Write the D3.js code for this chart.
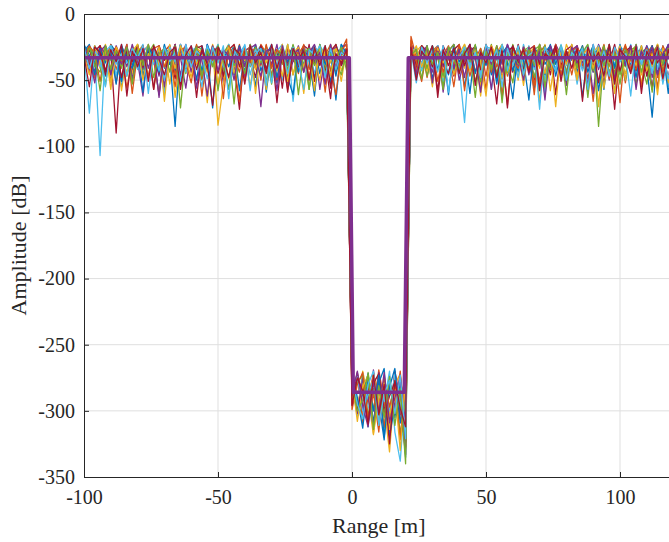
<!DOCTYPE html>
<html><head><meta charset="utf-8">
<script src="https://cdn.jsdelivr.net/npm/d3@7"></script>
<style>
body{margin:0;background:#fff;overflow:hidden}
svg{display:block}
svg text{font-family:"Liberation Serif","DejaVu Serif","Noto Serif",serif !important;fill:#262626}
</style>
</head><body>
<svg id="chart" width="669" height="542"></svg>
<script>
// ---- data ----
const xTicks = [-100, -50, 0, 50, 100];
const yTicks = [0, -50, -100, -150, -200, -250, -300, -350];
const xLabel = "Range [m]";
const yLabel = "Amplitude [dB]";
const rangeSamples = d3.range(-100, 121, 2); // 111 range bins, -100 … 120 m
const seriesColors = ["#0072BD","#D95319","#EDB120","#7E2F8E","#77AC30","#4DBEEE","#A2142F"];

const trace01 = [
-25,-38,-24,-31,-47,-23,-29,-55,-26,-36,
-24,-42,-28,-33,-61,-25,-30,-44,-23,-35,
-27,-50,-24,-39,-29,-26,-46,-31,-24,-58,
-28,-37,-23,-43,-30,-25,-52,-27,-34,-24,
-40,-26,-31,-48,-23,-36,-29,-65,-25,-33,
-270,-298,-276,-312,-271,-294,-322,-274,-305,-279,-291,
-24,-39,-27,-30,-53,-25,-34,-46,-23,-37,
-29,-60,-24,-41,-28,-33,-49,-26,-31,-24,
-44,-27,-35,-57,-23,-38,-30,-25,-47,-28,
-34,-24,-63,-29,-36,-26,-42,-23,-51,-31,
-25,-39,-28,-45,-24,-33,-56,-27,-30,-37];
const trace02 = [
-30,-24,-45,-27,-36,-23,-52,-29,-33,-25,
-41,-28,-24,-57,-31,-26,-38,-23,-48,-30,
-35,-25,-62,-28,-32,-24,-43,-27,-37,-23,
-50,-29,-26,-39,-24,-46,-31,-28,-54,-25,
-34,-23,-42,-30,-27,-59,-24,-36,-28,-19,
-286,-272,-309,-279,-300,-269,-293,-316,-275,-303,-281,
-17,-33,-25,-48,-28,-24,-40,-31,-55,-26,
-36,-23,-44,-29,-57,-25,-32,-27,-47,-24,
-38,-30,-26,-61,-23,-35,-28,-43,-25,-50,
-29,-24,-39,-31,-66,-26,-34,-23,-45,-28,
-52,-25,-37,-27,-30,-24,-48,-33,-26,-41];
const trace03 = [
-27,-33,-49,-24,-30,-41,-25,-58,-28,-35,
-23,-46,-31,-26,-39,-24,-53,-29,-34,-25,
-44,-27,-31,-67,-24,-36,-28,-49,-23,-38,
-26,-55,-30,-24,-42,-29,-35,-23,-47,-27,
-32,-60,-25,-37,-28,-44,-24,-31,-51,-26,
-278,-301,-270,-290,-318,-275,-296,-331,-280,-272,-307,
-26,-42,-24,-31,-37,-28,-54,-25,-33,-46,
-23,-39,-29,-62,-26,-35,-24,-44,-30,-27,
-50,-24,-36,-28,-41,-23,-58,-31,-26,-38,
-25,-47,-29,-33,-24,-70,-27,-40,-25,-32,
-45,-28,-24,-53,-30,-36,-23,-43,-29,-34];
const trace04 = [
-29,-44,-26,-35,-24,-51,-30,-27,-40,-23,
-36,-62,-25,-31,-47,-28,-24,-39,-33,-56,
-26,-30,-43,-23,-37,-28,-52,-25,-34,-29,
-45,-24,-32,-70,-27,-38,-23,-49,-30,-26,
-41,-28,-35,-24,-57,-31,-27,-43,-25,-23,
-295,-273,-288,-310,-269,-302,-281,-315,-271,-297,-333,
-23,-29,-41,-26,-35,-24,-59,-30,-27,-44,
-25,-38,-31,-48,-23,-33,-28,-64,-26,-37,
-24,-45,-29,-32,-54,-27,-39,-23,-47,-30,
-35,-25,-42,-28,-60,-24,-31,-50,-26,-36,
-29,-44,-23,-38,-27,-56,-31,-25,-40,-33];
const trace05 = [
-33,-26,-40,-29,-54,-24,-36,-27,-47,-31,
-23,-42,-28,-35,-25,-60,-30,-37,-24,-45,
-27,-33,-50,-26,-39,-23,-44,-29,-68,-25,
-36,-28,-41,-24,-31,-53,-27,-38,-23,-46,
-30,-25,-57,-28,-34,-24,-43,-32,-26,-39,
-274,-292,-306,-271,-299,-280,-313,-276,-301,-285,-320,
-28,-36,-24,-47,-31,-25,-55,-27,-34,-42,
-24,-30,-63,-26,-38,-23,-45,-29,-36,-52,
-25,-33,-41,-27,-24,-58,-30,-37,-26,-44,
-23,-49,-28,-35,-25,-85,-31,-39,-27,-46,
-24,-34,-53,-29,-26,-40,-23,-48,-32,-28];
const trace06 = [
-26,-35,-31,-107,-24,-43,-28,-52,-25,-37,
-30,-23,-48,-27,-34,-61,-25,-39,-29,-44,
-24,-36,-55,-26,-31,-23,-47,-28,-40,-33,
-25,-58,-29,-24,-42,-27,-35,-50,-23,-66,
-28,-38,-25,-45,-30,-24,-53,-26,-34,-29,
-281,-304,-272,-296,-311,-277,-293,-270,-316,-338,-283,
-31,-25,-43,-28,-36,-24,-51,-27,-33,-40,
-82,-26,-30,-45,-24,-57,-29,-37,-25,-34,
-48,-23,-39,-28,-31,-62,-26,-42,-24,-35,
-27,-53,-30,-24,-44,-28,-38,-25,-59,-29,
-36,-23,-47,-27,-33,-26,-41,-24,-55,-30];
const trace07 = [
-34,-27,-39,-24,-46,-29,-90,-26,-32,-43,
-25,-37,-28,-57,-24,-35,-30,-49,-23,-41,
-27,-63,-29,-34,-25,-45,-31,-24,-38,-72,
-26,-33,-48,-24,-30,-40,-27,-56,-25,-36,
-29,-44,-23,-51,-28,-34,-64,-25,-31,-27,
-290,-271,-300,-280,-314,-274,-297,-308,-270,-292,-324,
-29,-41,-25,-36,-28,-58,-24,-33,-47,-26,
-39,-30,-24,-54,-27,-35,-68,-25,-31,-44,
-23,-38,-29,-50,-26,-33,-24,-61,-28,-37,
-25,-46,-30,-27,-40,-24,-53,-29,-72,-26,
-34,-24,-43,-28,-36,-57,-25,-31,-48,-27];
const trace08 = [
-28,-23,-37,-30,-44,-25,-33,-51,-27,-39,
-24,-47,-29,-35,-26,-41,-31,-85,-24,-38,
-30,-26,-46,-23,-34,-55,-28,-40,-25,-32,
-43,-27,-36,-24,-59,-29,-33,-25,-48,-61,
-26,-39,-30,-24,-45,-28,-52,-23,-35,-31,
-277,-301,-286,-272,-309,-279,-268,-319,-296,-275,-335,
-30,-26,-38,-24,-49,-29,-35,-27,-43,-25,
-55,-31,-24,-40,-28,-46,-33,-23,-37,-64,
-27,-42,-25,-34,-51,-29,-24,-47,-30,-36,
-26,-44,-28,-33,-24,-58,-31,-25,-41,-29,
-50,-27,-35,-24,-39,-78,-28,-32,-23,-45];
const trace09 = [
-24,-36,-48,-27,-31,-25,-42,-29,-56,-33,
-26,-40,-23,-35,-61,-28,-24,-46,-30,-37,
-52,-26,-33,-43,-25,-29,-48,-24,-38,-66,
-27,-34,-41,-23,-30,-25,-50,-28,-39,-32,
-45,-24,-36,-58,-27,-31,-23,-44,-29,-26,
-282,-274,-305,-291,-272,-287,-312,-278,-302,-270,-327,
-20,-43,-28,-33,-25,-51,-31,-24,-40,-29,
-27,-47,-30,-37,-23,-44,-26,-62,-28,-35,
-41,-25,-32,-54,-29,-24,-38,-27,-46,-31,
-26,-39,-24,-49,-30,-36,-23,-45,-28,-67,
-25,-35,-42,-27,-38,-29,-56,-24,-33,-30];
const trace10 = [
-37,-25,-29,-41,-23,-52,-30,-39,-26,-45,
-28,-24,-49,-33,-27,-40,-23,-63,-30,-36,
-26,-38,-31,-44,-24,-84,-53,-27,-40,-29,
-35,-25,-42,-28,-57,-24,-32,-47,-23,-46,
-29,-40,-26,-34,-50,-25,-37,-23,-43,-31,
-273,-296,-279,-307,-271,-299,-284,-314,-276,-293,-329,
-35,-28,-24,-43,-30,-26,-48,-25,-37,-31,
-41,-24,-33,-55,-27,-38,-29,-23,-45,-34,
-26,-39,-30,-25,-67,-28,-36,-24,-42,-23,
-32,-50,-26,-38,-29,-24,-41,-33,-60,-27,
-37,-25,-30,-46,-28,-40,-23,-35,-52,-26];
const trace11 = [
-27,-38,-43,-25,-30,-46,-24,-35,-23,-50,
-29,-41,-26,-36,-24,-55,-28,-39,-33,-23,
-44,-27,-34,-62,-25,-31,-40,-28,-37,-24,
-47,-26,-23,-38,-30,-25,-43,-27,-53,-35,
-24,-40,-29,-23,-36,-45,-28,-25,-39,-31,
-279,-302,-275,-290,-312,-271,-304,-280,-297,-273,-310,
-29,-37,-24,-31,-44,-26,-40,-28,-23,-50,
-35,-27,-25,-42,-30,-57,-24,-38,-23,-33,
-39,-25,-46,-28,-36,-26,-41,-23,-31,-54,
-27,-24,-37,-29,-44,-23,-35,-26,-51,-30,
-34,-40,-25,-33,-24,-48,-28,-39,-23,-36];
const trace12 = [
-29,-25,-39,-44,-24,-35,-27,-41,-26,-52,
-24,-37,-30,-23,-43,-28,-38,-25,-50,-33,
-36,-24,-27,-42,-26,-58,-30,-23,-39,-34,
-28,-40,-25,-37,-24,-48,-29,-27,-44,-23,
-38,-28,-57,-26,-31,-41,-24,-36,-46,-27,
-293,-278,-273,-304,-283,-309,-275,-298,-279,-317,-291,
-27,-37,-25,-41,-24,-34,-47,-28,-23,-39,
-29,-26,-51,-36,-24,-40,-27,-33,-44,-23,
-38,-28,-25,-48,-30,-24,-42,-36,-27,-61,
-26,-38,-29,-23,-43,-28,-39,-24,-46,-32,
-40,-27,-25,-37,-53,-29,-24,-43,-26,-38];
const trace13 = [
-30,-75,-25,-40,-28,-24,-47,-23,-37,-27,
-42,-29,-24,-38,-26,-50,-25,-36,-23,-41,
-28,-25,-44,-24,-37,-27,-40,-23,-46,-29,
-24,-39,-27,-35,-25,-52,-28,-23,-38,-26,
-41,-24,-36,-25,-29,-46,-27,-40,-23,-35,
-281,-274,-300,-288,-276,-310,-283,-301,-272,-295,-318,
-29,-25,-38,-27,-41,-24,-35,-44,-26,-37,
-24,-39,-28,-47,-25,-26,-40,-23,-43,-29,
-27,-37,-24,-42,-28,-50,-25,-36,-23,-39,
-30,-26,-43,-25,-34,-24,-46,-27,-38,-25,
-28,-41,-24,-37,-26,-44,-25,-29,-49,-24];
const trace14 = [
-27,-39,-28,-24,-43,-30,-25,-48,-27,-36,
-24,-40,-29,-26,-45,-27,-37,-23,-53,-28,
-38,-26,-24,-41,-29,-25,-47,-27,-23,-40,
-28,-25,-38,-24,-42,-27,-67,-28,-37,-25,
-40,-24,-27,-38,-25,-44,-28,-23,-39,-26,
-276,-299,-282,-308,-279,-272,-303,-289,-278,-306,-323,
-27,-38,-24,-28,-40,-25,-37,-45,-27,-23,
-39,-28,-25,-42,-24,-37,-27,-49,-28,-25,
-36,-41,-27,-24,-38,-28,-46,-25,-39,-27,
-24,-37,-28,-40,-25,-52,-27,-36,-23,-43,
-28,-25,-39,-27,-47,-24,-37,-28,-41,-25];
const trace15 = [
-23,-31,-46,-26,-37,-28,-53,-24,-34,-41,
-27,-59,-25,-32,-44,-23,-38,-29,-49,-26,
-35,-24,-43,-30,-71,-25,-33,-27,-46,-24,
-39,-28,-55,-26,-31,-23,-48,-29,-36,-25,
-44,-27,-33,-62,-24,-38,-28,-47,-23,-30,
-270,-290,-313,-277,-300,-273,-320,-282,-268,-309,-289,
-25,-48,-29,-34,-24,-42,-27,-61,-26,-36,
-31,-23,-45,-28,-39,-25,-53,-30,-24,-43,
-27,-35,-65,-25,-32,-46,-23,-38,-28,-50,
-26,-33,-24,-44,-30,-27,-57,-25,-40,-23,
-37,-29,-48,-26,-34,-24,-45,-28,-60,-31];
const trace16 = [
-35,-24,-30,-51,-27,-42,-25,-36,-23,-60,
-29,-33,-47,-26,-24,-40,-31,-55,-27,-25,
-39,-23,-49,-28,-35,-26,-64,-24,-32,-44,
-25,-37,-29,-50,-23,-41,-27,-33,-57,-26,
-30,-24,-48,-28,-36,-25,-42,-61,-27,-23,
-299,-280,-271,-306,-287,-316,-274,-297,-281,-322,-277,
-24,-36,-51,-27,-31,-25,-44,-29,-38,-23,
-58,-28,-34,-26,-47,-24,-40,-30,-69,-25,
-33,-27,-43,-24,-52,-29,-36,-23,-41,-28,
-46,-26,-30,-60,-25,-38,-24,-49,-27,-35,
-23,-42,-29,-55,-26,-32,-24,-44,-30,-39];
const trace17 = [
-31,-46,-24,-38,-27,-57,-25,-33,-44,-28,
-23,-50,-30,-36,-25,-66,-27,-41,-24,-34,
-48,-26,-29,-39,-23,-53,-31,-25,-45,-28,
-35,-24,-60,-27,-37,-26,-43,-23,-51,-30,
-25,-40,-28,-58,-24,-33,-47,-26,-36,-29,
-276,-308,-282,-273,-317,-291,-279,-304,-284,-330,-275,
-33,-24,-40,-28,-55,-26,-37,-25,-46,-30,
-23,-43,-27,-36,-62,-24,-32,-49,-26,-39,
-28,-54,-25,-34,-24,-45,-29,-70,-27,-38,
-23,-47,-31,-26,-41,-25,-56,-28,-35,-24,
-50,-27,-39,-24,-43,-30,-61,-26,-33,-28];
const trace18 = [
-26,-33,-52,-28,-24,-45,-30,-38,-25,-49,
-31,-24,-41,-27,-63,-26,-35,-23,-46,-29,
-25,-56,-28,-37,-24,-43,-27,-32,-50,-25,
-40,-23,-34,-47,-28,-26,-58,-24,-39,-30,
-27,-44,-25,-36,-29,-53,-23,-41,-28,-34,
-288,-270,-296,-312,-278,-301,-271,-309,-290,-276,-328,
-26,-45,-30,-24,-52,-28,-35,-25,-41,-27,
-48,-24,-33,-59,-26,-38,-29,-44,-23,-36,
-31,-50,-25,-40,-28,-65,-24,-34,-27,-47,
-25,-37,-29,-54,-23,-42,-27,-31,-49,-26,
-39,-24,-57,-28,-35,-25,-46,-30,-24,-41];
const trace19 = [
-38,-26,-31,-58,-24,-42,-28,-35,-25,-53,
-27,-39,-23,-48,-30,-26,-44,-24,-71,-29,
-33,-25,-47,-27,-40,-24,-36,-57,-26,-31,
-45,-23,-38,-28,-52,-25,-34,-27,-42,-24,
-61,-29,-26,-39,-23,-46,-30,-35,-25,-43,
-278,-300,-292,-272,-314,-281,-305,-274,-311,-283,-340,
-31,-27,-49,-24,-38,-29,-57,-25,-34,-44,
-26,-36,-23,-51,-28,-42,-24,-67,-30,-35,
-25,-46,-27,-39,-23,-55,-29,-33,-24,-48,
-28,-41,-25,-63,-26,-37,-24,-45,-30,-53,
-27,-34,-23,-44,-28,-59,-25,-38,-26,-47];
const trace20 = [
-25,-41,-28,-34,-55,-24,-38,-30,-47,-26,
-33,-24,-60,-27,-43,-25,-36,-29,-51,-23,
-40,-28,-32,-49,-25,-37,-24,-64,-27,-35,
-23,-46,-30,-26,-54,-24,-39,-28,-45,-25,
-35,-57,-27,-31,-24,-48,-26,-42,-29,-33,
-275,-295,-306,-280,-270,-311,-287,-277,-302,-273,-321,
-28,-52,-25,-37,-27,-44,-24,-59,-30,-33,
-25,-41,-29,-48,-23,-36,-27,-55,-26,-39,
-24,-46,-31,-28,-72,-25,-35,-43,-24,-50,
-29,-34,-26,-57,-23,-40,-28,-47,-25,-36,
-30,-62,-24,-38,-27,-45,-25,-53,-29,-31];
const trace21 = [
-32,-55,-25,-29,-44,-27,-36,-23,-62,-28,
-40,-26,-51,-24,-34,-46,-29,-25,-57,-31,
-24,-42,-27,-38,-69,-25,-33,-48,-26,-30,
-53,-24,-37,-29,-45,-23,-41,-27,-59,-26,
-34,-28,-50,-25,-39,-24,-56,-30,-37,-27,
-296,-275,-285,-310,-273,-303,-280,-325,-277,-298,-312,
-25,-50,-28,-34,-24,-63,-27,-39,-26,-45,
-30,-23,-54,-29,-37,-25,-48,-28,-71,-24,
-35,-27,-44,-25,-58,-30,-33,-24,-51,-28,
-41,-26,-66,-25,-36,-29,-47,-23,-53,-27,
-32,-45,-24,-60,-28,-38,-25,-49,-27,-42];

const traces = [trace01,trace02,trace03,trace04,trace05,trace06,trace07,
                trace08,trace09,trace10,trace11,trace12,trace13,trace14,
                trace15,trace16,trace17,trace18,trace19,trace20,trace21];

// average level (thick line)
const meanRange = [-100, -1, 0.5, 19.5, 21, 120];
const meanLevel = [-33, -33, -286, -286, -33, -33];

// ---- drawing ----
const svg = d3.select("#chart");
const pL = 84, pT = 14, pB = 477, pR = 673.6;
const x = d3.scaleLinear().domain([-100, 120]).range([pL, pR]);
const y = d3.scaleLinear().domain([-350, 0]).range([pB, pT]);

svg.append("defs").append("clipPath").attr("id","clip")
  .append("rect").attr("x",pL).attr("y",pT).attr("width",pR-pL).attr("height",pB-pT);

// grid
const grid = svg.append("g").attr("stroke","#dfdfdf").attr("stroke-width",1);
grid.selectAll("line.gx").data(xTicks.filter(d=>d>-100)).join("line")
  .attr("class","gx")
  .attr("x1",d=>x(d)).attr("x2",d=>x(d)).attr("y1",pT).attr("y2",pB);
grid.selectAll("line.gy").data(yTicks.filter(d=>d<0 && d>-350)).join("line")
  .attr("class","gy")
  .attr("x1",pL).attr("x2",pR).attr("y1",d=>y(d)).attr("y2",d=>y(d));

// traces
const plot = svg.append("g").attr("clip-path","url(#clip)");
const line = d3.line().x((d,i)=>x(rangeSamples[i])).y(d=>y(d));
plot.selectAll("path.trace").data(traces).join("path")
  .attr("class","trace")
  .attr("d",d=>line(d))
  .attr("fill","none")
  .attr("stroke",(d,i)=>seriesColors[i%seriesColors.length])
  .attr("stroke-width",1.3)
  .attr("stroke-linejoin","round");

const meanLine = d3.line().x((d,i)=>x(meanRange[i])).y(d=>y(d));
plot.append("path").attr("d",meanLine(meanLevel))
  .attr("fill","none").attr("stroke","#7E2F8E").attr("stroke-width",3.5)
  .attr("stroke-linejoin","round");

// axes
const fmt = d=>String(d);
const ax = svg.append("g").attr("transform",`translate(0,${pB})`)
  .call(d3.axisBottom(x).tickValues(xTicks).tickFormat(fmt).tickSizeInner(-5).tickSizeOuter(0).tickPadding(13));
const axTop = svg.append("g").attr("transform",`translate(0,${pT})`)
  .call(d3.axisTop(x).tickValues(xTicks).tickFormat("").tickSizeInner(-5).tickSizeOuter(0));
const ay = svg.append("g").attr("transform",`translate(${pL},0)`)
  .call(d3.axisLeft(y).tickValues(yTicks).tickFormat(fmt).tickSizeInner(-5).tickSizeOuter(0).tickPadding(9));
[ax,axTop,ay].forEach(g=>{
  g.attr("font-family",null);
  g.select(".domain").attr("stroke","#262626").attr("stroke-width",1);
  g.selectAll(".tick line").attr("stroke","#262626");
  g.selectAll(".tick text").attr("font-size",20).attr("fill","#262626");
});

svg.append("text").attr("x",(pL+pR)/2).attr("y",533)
  .attr("text-anchor","middle").attr("font-size",22).text(xLabel);
svg.append("text").attr("transform",`translate(26,${(pT+pB)/2}) rotate(-90)`)
  .attr("text-anchor","middle").attr("font-size",22).text(yLabel);
</script>
</body></html>
